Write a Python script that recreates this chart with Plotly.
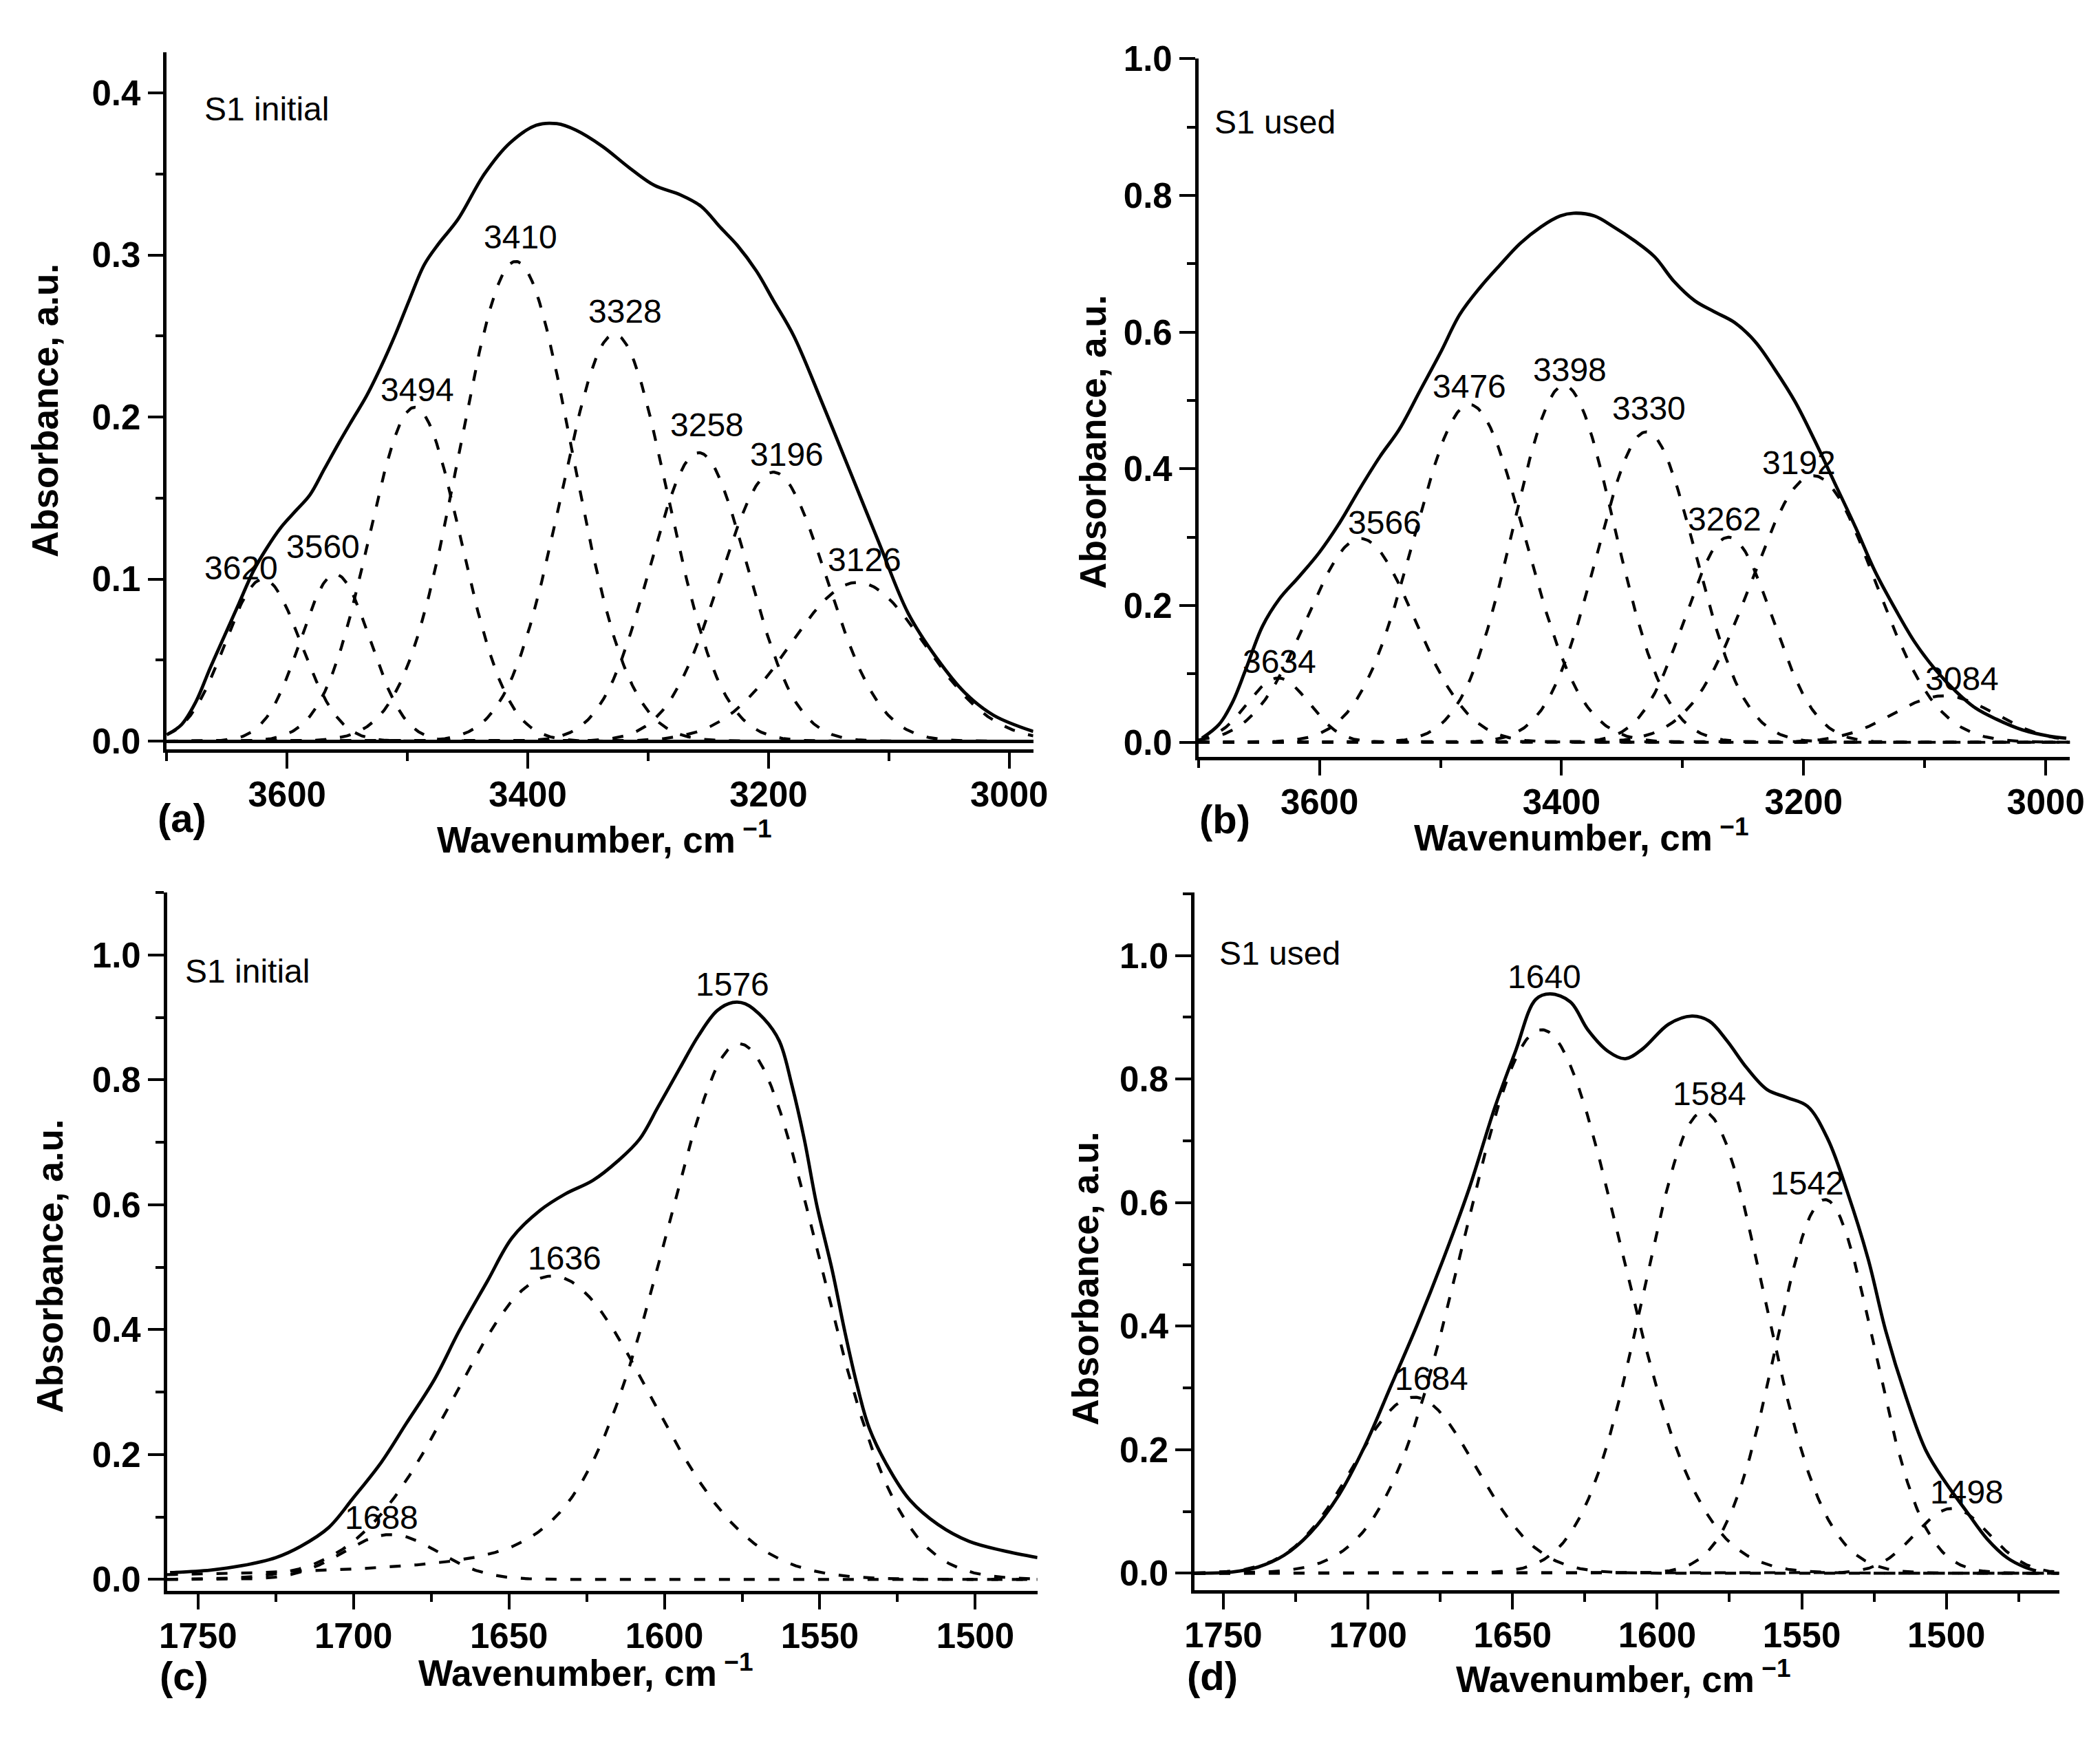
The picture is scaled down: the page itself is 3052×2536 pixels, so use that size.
import numpy as np
import plotly.graph_objects as go

W, H = 3052, 2536
FONT = "Liberation Sans, Arial, sans-serif"

# ---------------- data ----------------
# (a) S1 initial, 3700-2980 cm-1 : fitted bands (centre, height, FWHM, Lorentzian share of high-wavenumber wing)
a_centers = [3620, 3560, 3494, 3410, 3328, 3258, 3196, 3126]
a_heights = [0.100, 0.103, 0.206, 0.296, 0.251, 0.178, 0.166, 0.098]
a_fwhm = [74, 68, 90, 110, 104, 95, 104, 132]
a_tail = [0, 0, 0, 0, 0, 0, 0, 0]
a_env_x = [3700, 3688, 3676, 3664, 3652, 3640, 3628, 3617, 3605, 3593, 3581, 3569,
           3557, 3546, 3534, 3522, 3510, 3498, 3486, 3474, 3458, 3436, 3415, 3393,
           3376, 3360, 3338, 3316, 3295, 3273, 3256, 3240, 3226, 3210, 3196, 3179,
           3155, 3132, 3108, 3084, 3060, 3037, 3013, 2980]
a_env_y = [0.004, 0.010, 0.024, 0.045, 0.065, 0.085, 0.105, 0.119, 0.132, 0.142, 0.152, 0.168,
           0.184, 0.198, 0.213, 0.231, 0.251, 0.273, 0.294, 0.307, 0.322, 0.350, 0.369, 0.380,
           0.381, 0.377, 0.367, 0.354, 0.343, 0.337, 0.330, 0.317, 0.306, 0.290, 0.272, 0.250,
           0.208, 0.166, 0.122, 0.079, 0.051, 0.030, 0.016, 0.006]
a_label_x = [3638, 3570, 3492, 3406, 3319, 3251, 3185, 3120]
a_label_y = [0.107, 0.120, 0.217, 0.311, 0.265, 0.195, 0.177, 0.112]

# (b) S1 used, 3700-2980 cm-1
b_centers = [3634, 3566, 3476, 3398, 3330, 3262, 3192, 3084]
b_heights = [0.094, 0.298, 0.494, 0.522, 0.454, 0.300, 0.390, 0.068]
b_fwhm = [60, 105, 108, 98, 96, 85, 120, 100]
b_tail = [0, 0, 0, 0, 0, 0, 0, 0]
b_env_x = [3697, 3683, 3672, 3661, 3647, 3633, 3617, 3600, 3583, 3567, 3550, 3534,
           3517, 3500, 3484, 3467, 3451, 3434, 3417, 3401, 3390, 3373, 3357, 3340,
           3323, 3307, 3290, 3274, 3257, 3240, 3224, 3207, 3191, 3174, 3157, 3141,
           3124, 3108, 3091, 3074, 3058, 3041, 3019, 2997, 2983]
b_env_y = [0.006, 0.026, 0.058, 0.106, 0.170, 0.210, 0.242, 0.278, 0.322, 0.370, 0.418, 0.458,
           0.514, 0.570, 0.626, 0.666, 0.698, 0.730, 0.754, 0.770, 0.774, 0.770, 0.754, 0.734,
           0.710, 0.674, 0.646, 0.630, 0.614, 0.586, 0.546, 0.498, 0.442, 0.378, 0.314, 0.250,
           0.194, 0.146, 0.106, 0.074, 0.050, 0.034, 0.018, 0.009, 0.006]
b_label_x = [3633, 3546, 3476, 3393, 3328, 3265, 3204, 3069]
b_label_y = [0.118, 0.321, 0.521, 0.545, 0.488, 0.326, 0.409, 0.093]

# (c) S1 initial, 1760-1480 cm-1
c_centers = [1688, 1636, 1576]
c_heights = [0.072, 0.486, 0.858]
c_fwhm = [36, 74, 60]
c_tail = [0, 0, 0.35]
c_env_x = [1759, 1746, 1736, 1725, 1717, 1708, 1700, 1691, 1683, 1674, 1666, 1657,
           1649, 1640, 1632, 1623, 1615, 1608, 1602, 1595, 1589, 1583, 1578, 1574,
           1568, 1563, 1559, 1555, 1551, 1546, 1542, 1538, 1534, 1527, 1521, 1512,
           1502, 1491, 1480]
c_env_y = [0.011, 0.015, 0.022, 0.035, 0.053, 0.083, 0.131, 0.188, 0.250, 0.320, 0.398, 0.477,
           0.547, 0.591, 0.617, 0.639, 0.670, 0.705, 0.757, 0.819, 0.871, 0.911, 0.924, 0.922,
           0.898, 0.862, 0.792, 0.705, 0.600, 0.495, 0.398, 0.311, 0.241, 0.171, 0.127, 0.088,
           0.061, 0.046, 0.035]
c_label_x = [1691, 1632, 1578]
c_label_y = [0.099, 0.515, 0.953]

# (d) S1 used, 1760-1460 cm-1
d_centers = [1684, 1640, 1584, 1542, 1498]
d_heights = [0.285, 0.880, 0.747, 0.605, 0.105]
d_fwhm = [50, 64, 49, 40, 30]
d_tail = [0, 0, 0, 0, 0]
d_env_x = [1760, 1747, 1738, 1729, 1720, 1710, 1701, 1692, 1683, 1674, 1665, 1656,
           1649, 1642, 1637, 1630, 1624, 1617, 1611, 1605, 1596, 1588, 1582, 1576,
           1569, 1562, 1555, 1548, 1541, 1534, 1527, 1521, 1514, 1507, 1500, 1493,
           1486, 1479, 1473, 1469]
d_env_y = [0.000, 0.002, 0.010, 0.029, 0.065, 0.127, 0.207, 0.304, 0.402, 0.508, 0.623, 0.756,
           0.845, 0.929, 0.938, 0.925, 0.880, 0.845, 0.833, 0.849, 0.889, 0.902, 0.894, 0.863,
           0.818, 0.783, 0.770, 0.756, 0.703, 0.614, 0.508, 0.393, 0.286, 0.198, 0.145, 0.100,
           0.056, 0.025, 0.010, 0.004]
d_label_x = [1678, 1639, 1582, 1548, 1493]
d_label_y = [0.315, 0.966, 0.776, 0.632, 0.131]

panel_titles = ["S1 initial", "S1 used", "S1 initial", "S1 used"]
panel_tags = ["(a)", "(b)", "(c)", "(d)"]

# ---------------- layout geometry ----------------
panels = [
    dict(cen=a_centers, hei=a_heights, fw=a_fwhm, tl=a_tail, ex=a_env_x, ey=a_env_y,
         lx=a_label_x, ly=a_label_y, xr=[3700, 2980], yr=[-0.005, 0.425],
         dx=[0.0754, 0.4931], dy=[0.5741, 0.9807], xd=200, xm=100, x0=3000,
         yd=0.1, ym=0.05, zero=True, tx=3670, ty=0.39,
         xt=(0.2864, 0.5229), yt=(0.0167, 0.7717), tag=(0.0828, 0.5343)),
    dict(cen=b_centers, hei=b_heights, fw=b_fwhm, tl=b_tail, ex=b_env_x, ey=b_env_y,
         lx=b_label_x, ly=b_label_y, xr=[3700, 2980], yr=[-0.021, 1.0],
         dx=[0.5727, 0.9928], dy=[0.5698, 0.9770], xd=200, xm=100, x0=3000,
         yd=0.2, ym=0.1, zero=False, tx=3688, ty=0.907,
         xt=(0.7575, 0.5240), yt=(0.5216, 0.7535), tag=(0.5855, 0.5335)),
    dict(cen=c_centers, hei=c_heights, fw=c_fwhm, tl=c_tail, ex=c_env_x, ey=c_env_y,
         lx=c_label_x, ly=c_label_y, xr=[1760, 1480], yr=[-0.018, 1.1],
         dx=[0.0755, 0.4951], dy=[0.0832, 0.4905], xd=50, xm=25, x0=1500,
         yd=0.2, ym=0.1, zero=False, tx=1754.5, ty=0.974,
         xt=(0.2775, 0.0367), yt=(0.019, 0.2725), tag=(0.0836, 0.0335)),
    dict(cen=d_centers, hei=d_heights, fw=d_fwhm, tl=d_tail, ex=d_env_x, ey=d_env_y,
         lx=d_label_x, ly=d_label_y, xr=[1760, 1461], yr=[-0.028, 1.102],
         dx=[0.5708, 0.9876], dy=[0.0833, 0.4905], xd=50, xm=25, x0=1500,
         yd=0.2, ym=0.1, zero=False, tx=1752, ty=1.004,
         xt=(0.7775, 0.0333), yt=(0.5183, 0.2654), tag=(0.5796, 0.0335)),
]

fig = go.Figure()
annotations = []
layout = {}

for i, p in enumerate(panels):
    n = "" if i == 0 else str(i + 1)
    xref, yref = "x" + n, "y" + n
    # fitted bands: Gaussian profile from the read centre / height / FWHM,
    # with a Lorentzian share on the high-wavenumber wing where the picture shows a long tail
    xs = np.linspace(max(p["xr"]), min(p["ex"][-1], p["xr"][1]), 800)
    for c, h, f, t in zip(p["cen"], p["hei"], p["fw"], p["tl"]):
        u = ((xs - c) / (f / 2.0)) ** 2
        g = np.exp(-np.log(2) * u)
        lor = 1.0 / (1.0 + u)
        eta = np.where(xs > c, t, 0.0)
        ys = h * ((1 - eta) * g + eta * lor)
        fig.add_trace(go.Scatter(x=xs, y=ys, mode="lines", xaxis=xref, yaxis=yref,
                                 showlegend=False, hoverinfo="skip",
                                 line=dict(color="black", width=4.2, dash="16px,20px")))
    # measured envelope
    fig.add_trace(go.Scatter(x=p["ex"], y=p["ey"], mode="lines", xaxis=xref, yaxis=yref,
                             showlegend=False, line=dict(color="black", width=4.8, shape="spline")))

    ax_common = dict(showline=True, linecolor="black", linewidth=4.5, ticks="outside",
                     ticklen=23, tickwidth=4, tickcolor="black", showgrid=False, mirror=False,
                     tickfont=dict(family=FONT, size=51, color="black", weight="bold"))
    layout["xaxis" + n] = dict(ax_common, domain=p["dx"], range=p["xr"], anchor=yref,
                               tick0=p["x0"], dtick=p["xd"], zeroline=False,
                               ticklabelstandoff=-6,
                               minor=dict(ticks="outside", ticklen=12, tickwidth=4,
                                          tickcolor="black", tick0=p["x0"], dtick=p["xm"],
                                          showgrid=False))
    layout["yaxis" + n] = dict(ax_common, domain=p["dy"], range=p["yr"], anchor=xref,
                               tick0=0, dtick=p["yd"], tickformat=".1f",
                               zeroline=p["zero"], zerolinecolor="black", zerolinewidth=4.5,
                               minor=dict(ticks="outside", ticklen=12, tickwidth=4,
                                          tickcolor="black", tick0=0, dtick=p["ym"],
                                          showgrid=False))
    # peak labels
    for c, x, y in zip(p["cen"], p["lx"], p["ly"]):
        annotations.append(dict(x=x, y=y, xref=xref, yref=yref, text=str(c), showarrow=False,
                                xanchor="center", yanchor="middle",
                                font=dict(family=FONT, size=48, color="black")))
    annotations.append(dict(x=p["tx"], y=p["ty"], xref=xref, yref=yref, text=panel_titles[i],
                            showarrow=False, xanchor="left", yanchor="middle",
                            font=dict(family=FONT, size=48, color="black")))
    annotations.append(dict(x=p["xt"][0], y=p["xt"][1], xref="paper", yref="paper",
                            text="Wavenumber, cm<sup> \u22121</sup>", showarrow=False,
                            xanchor="center", yanchor="middle",
                            font=dict(family=FONT, size=53, color="black", weight="bold")))
    annotations.append(dict(x=p["yt"][0], y=p["yt"][1], xref="paper", yref="paper",
                            text="Absorbance, a.u.", showarrow=False, textangle=-90,
                            xanchor="center", yanchor="middle",
                            font=dict(family=FONT, size=53, color="black", weight="bold")))
    annotations.append(dict(x=p["tag"][0], y=p["tag"][1], xref="paper", yref="paper",
                            text=panel_tags[i], showarrow=False,
                            xanchor="center", yanchor="middle",
                            font=dict(family=FONT, size=58, color="black", weight="bold")))

fig.update_layout(width=W, height=H, margin=dict(l=0, r=0, t=0, b=0),
                  paper_bgcolor="white", plot_bgcolor="white",
                  annotations=annotations, **layout)
fig.write_html("out.html", config={"displayModeBar": False},
               post_script="document.body.style.margin='0px';")
